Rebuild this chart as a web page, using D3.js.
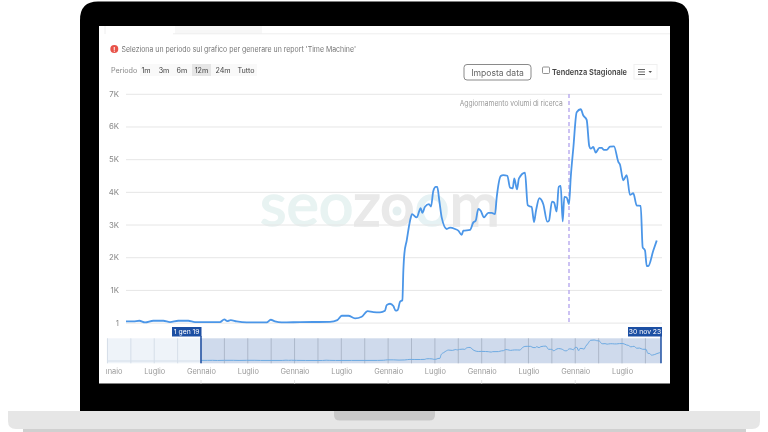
<!DOCTYPE html>
<html><head><meta charset="utf-8">
<script src="https://cdn.jsdelivr.net/npm/d3@7/dist/d3.min.js"></script>
<style>html,body{margin:0;padding:0;background:#fff;overflow:hidden}svg{display:block}text{font-family:Inter,"Noto Sans",sans-serif}</style>
</head><body><svg id="c" width="768" height="432"></svg>
<script>
// months since 1 Jan 2019
const months = [0,0.81,1.48,2.11,3.03,4.14,4.88,5.8,6.91,7.65,10.42,10.9,11.23,11.61,12.27,13.38,15.6,16.05,16.52,17.27,19.3,22.62,23.44,23.92,24.66,25.4,26.14,26.8,27.43,
28.17,28.72,28.91,29.28,29.65,29.91,30.13,30.39,30.65,30.76,30.87,31.13,31.5,31.72,32.24,32.68,32.86,33.16,33.6,33.83,34.08,34.35,34.52,34.75,35.01,35.57,35.93,36.49,36.85,37.23,37.41,38.15,38.52,38.78,39.07,39.34,39.7,40.18,40.56,40.92,41.11,41.56,41.84,42.29,42.59,42.89,43.06,43.36,43.58,44.25,44.55,44.8,
44.99,45.25,45.47,45.84,46.28,46.72,46.91,47.24,47.47,47.76,47.99,48.21,48.43,48.61,48.87,49.13,49.32,49.61,49.98,50.43,50.72,51.09,51.38,51.54,51.82,52.09,52.49,52.76,53.01,53.31,53.68,54.12,54.6,54.78,55.15,55.53,55.89,56.26,56.64,57.08,57.3,57.56,57.75,57.92,58.48,58.86];
const visits = [36,36,56,5,56,56,15,56,56,15,15,97,46,76,36,5,5,87,36,5,15,25,76,209,209,128,179,352,321,
314,364,536,577,506,364,385,638,688,1600,2105,2510,3117,3319,3218,3502,3360,3542,3623,3552,4028,4150,4150,3724,3218,2864,2904,2864,2813,2682,2813,2834,3066,3117,3481,3421,3218,3360,3360,3319,3825,4483,4513,4493,4129,4109,4412,4078,4412,4584,3593,3552,
3542,3076,3421,3805,3623,3087,3117,3704,3674,3400,4150,4180,3097,3846,3825,3623,4433,5343,6436,6527,6335,6204,5394,5323,5374,5202,5343,5343,5283,5283,5384,5394,4918,4837,4352,4514,3906,3957,3582,3572,2307,2206,1731,1731,2206,2510];
const yTicks = [0,1000,2000,3000,4000,5000,6000,7000];
const periodLabels = ["1m","3m","6m","12m","24m","Tutto"];
const navLabelMonths = [-12,-6,0,6,12,18,24,30,36,42,48,54];
const navGridMonths = d3.range(-12,60,3);
const yearMonths = [0,12,24,36,48];
const updateMonth = 49.13;
const texts = {notice:"Seleziona un periodo sul grafico per generare un report 'Time Machine'",period:"Periodo",button:"Imposta data",trend:"Tendenza Stagionale",note:"Aggiornamento volumi di ricerca",start:"1 gen 19",end:"30 nov 23"};

const svg = d3.select("#c");
const rect=(g,x,y,w,h,f,o={})=>{const r=g.append("rect").attr("x",x).attr("y",y).attr("width",w).attr("height",h).attr("fill",f);Object.entries(o).forEach(([k,v])=>r.attr(k,v));return r;};
const txt=(g,x,y,t,size,fill,o={})=>{const r=g.append("text").attr("x",x).attr("y",y).attr("font-size",size).attr("fill",fill).attr("dominant-baseline","central").text(t);Object.entries(o).forEach(([k,v])=>r.attr(k,v));return r;};

// Laptop
rect(svg,23,428,723,4,"#d0d0d0");
svg.append("path").attr("d","M80 411V20Q80 1.5 98 1.5H671Q689 1.5 689 20V411Z").attr("fill","#000");
svg.append("path").attr("d","M8 411H760V421Q760 429 752 429H16Q8 429 8 421Z").attr("fill","#e6e6e6");
svg.append("path").attr("d","M334 411H435V415Q435 420.5 429 420.5H340Q334 420.5 334 415Z").attr("fill","#c9c9c9");

// Screen
const p = svg.append("g").attr("filter","url(#soft)");
svg.append("defs").html('<filter id="soft" x="0" y="0" width="100%" height="100%"><feGaussianBlur stdDeviation="0.35"/></filter><clipPath id="navClip"><rect x="106" y="360" width="556" height="22"/></clipPath>');
rect(p,99,26,571,357.5,"#fff");
rect(p,175,26,87,8,"#f7f7f7");
p.append("line").attr("x1",173).attr("x2",670).attr("y1",33.8).attr("y2",33.8).attr("stroke","#eeeeee");
p.append("line").attr("x1",105).attr("x2",105).attr("y1",26).attr("y2",34).attr("stroke","#eeeeee");

// Header
p.append("circle").attr("cx",114.3).attr("cy",49).attr("r",4).attr("fill","#e8524a");
txt(p,114.3,49,"!",6,"#fff",{"text-anchor":"middle","font-weight":700});
txt(p,121.5,49,texts.notice,7.6,"#777",{textLength:234.5,lengthAdjust:"spacingAndGlyphs"});
txt(p,111,70,texts.period,7.2,"#888");
rect(p,140,64,117,12,"#f9f9f9");
const periodX=[146,164,182,201.5,223,246];
rect(p,192,64,19,12,"#e6e6e6");
periodLabels.forEach((l,i)=>txt(p,periodX[i],70,l,7.2,"#444",{"text-anchor":"middle"}));
rect(p,464,64.5,67,15.5,"#fff",{stroke:"#8a8a8a",rx:3});
txt(p,497.5,72.5,texts.button,8.6,"#666",{"text-anchor":"middle"});
rect(p,542.5,67,7,6.5,"#fff",{stroke:"#777",rx:1,"stroke-width":.8});
txt(p,552,71.5,texts.trend,8.2,"#444",{"font-weight":600,textLength:75,lengthAdjust:"spacingAndGlyphs"});
rect(p,634,64.5,23,14.5,"#fff",{stroke:"#f0f0f0"});
[69,71.5,74].forEach(y=>rect(p,638,y,7,.9,"#555"));
p.append("path").attr("d","M648.5 71H652L650.2 73Z").attr("fill","#555");

// Watermark
const wm = p.append("text").attr("x",260).attr("y",226).attr("textLength",240).attr("lengthAdjust","spacingAndGlyphs").style("font-family","Lato").attr("font-size",60).attr("font-weight",400).attr("stroke-width",1.6);
[["seo","#e8f3f2"],["z","#e9e9e9"],["o","#e9e9e9"],["o","#e6f2f4"],["m","#e9e9e9"]].forEach(d=>wm.append("tspan").attr("fill",d[1]).attr("stroke",d[1]).text(d[0]));
p.append("circle").attr("cx",397).attr("cy",211).attr("r",4.5).attr("fill","#e4eff0");

// Main chart
const x = d3.scaleLinear().domain([0,59]).range([126,658]);
const y = d3.scaleLinear().domain([0,7000]).range([322.6,93.8]);
const yAxis = p.append("g").attr("transform","translate(126,0)").call(d3.axisLeft(y).tickValues(yTicks).tickSize(-536).tickPadding(7).tickFormat(v=>v===0?"1":(v/1000)+"K"));
yAxis.select(".domain").remove();
yAxis.selectAll("line").attr("stroke","#e6e6e6");
yAxis.selectAll("text").attr("fill","#888").attr("font-size",7.8);
const line = d3.line().x((d,i)=>x(months[i])).y(d=>y(d)).curve(d3.curveMonotoneX);
p.append("line").attr("x1",x(updateMonth)).attr("x2",x(updateMonth)).attr("y1",94).attr("y2",322).attr("stroke","#b7a8ee").attr("stroke-width",1.4).attr("stroke-dasharray","4 3");
p.append("path").datum(visits).attr("d",line).attr("fill","none").attr("stroke","#4b96e8").attr("stroke-width",1.8).attr("stroke-linejoin","round");
txt(p,562.7,103.5,texts.note,7.7,"#999",{"text-anchor":"end",textLength:103,lengthAdjust:"spacingAndGlyphs"});

// Navigator
const nx = d3.scaleLinear().domain([0,59]).range([201,661]);
const ny = d3.scaleLinear().domain([0,6527]).range([360.5,340]);
rect(p,107,338.3,94,25,"#eef3f9");
rect(p,201,338.3,460,25,"#cfdaec");
navGridMonths.forEach(m=>p.append("line").attr("x1",nx(m)).attr("x2",nx(m)).attr("y1",338.3).attr("y2",363.3).attr("stroke",m<0?"#d3dbe6":"#a9b4c6").attr("stroke-width",.9));
p.append("line").attr("x1",107).attr("x2",201).attr("y1",361).attr("y2",361).attr("stroke","#d5dfea");
const navLine = d3.line().x((d,i)=>nx(months[i])).y(d=>ny(d)).curve(d3.curveMonotoneX);
p.append("path").datum(visits).attr("d",navLine).attr("fill","none").attr("stroke","#6daae2").attr("stroke-width",1);
[0,59].forEach(m=>p.append("line").attr("x1",nx(m)).attr("x2",nx(m)).attr("y1",336).attr("y2",363.3).attr("stroke","#1f4fa3").attr("stroke-width",1.5));
rect(p,172,327,29.5,9.5,"#1f4fa3");
txt(p,186.7,331.8,texts.start,6.8,"#fff",{"text-anchor":"middle"});
rect(p,628,327,34,9.5,"#1f4fa3");
txt(p,645,331.8,texts.end,6.8,"#fff",{"text-anchor":"middle"});
const navWrap = p.append("g").attr("clip-path","url(#navClip)");
const navAxis = navWrap.append("g").attr("transform","translate(0,371)").call(d3.axisBottom(nx).tickValues(navLabelMonths).tickSize(0).tickPadding(0).tickFormat(m=>((m%12)+12)%12===0?"Gennaio":"Luglio"));
navAxis.select(".domain").remove();
navAxis.selectAll("text").attr("fill","#9a9a9a").attr("font-size",7.4).attr("dy",0).attr("y",0).attr("dominant-baseline","central");
yearMonths.forEach(m=>p.append("line").attr("x1",nx(m)).attr("x2",nx(m)).attr("y1",380).attr("y2",383.5).attr("stroke","#e4e4e4"));
</script></body></html>
